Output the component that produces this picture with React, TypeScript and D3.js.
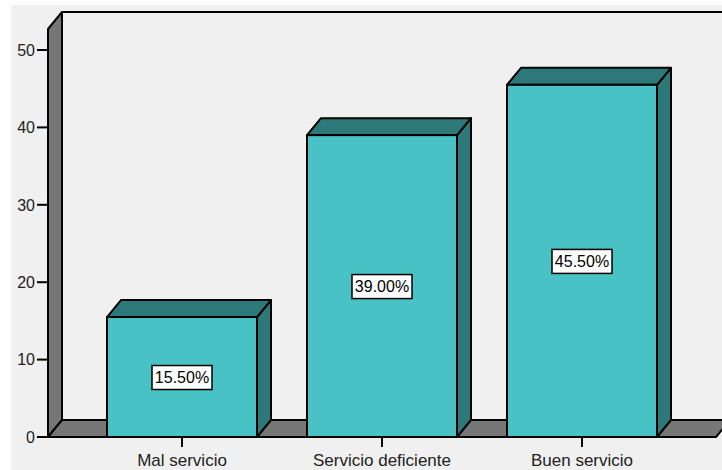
import React from "react";
import * as d3 from "d3";

const categories = ["Mal servicio", "Servicio deficiente", "Buen servicio"];
const values = [15.5, 39.0, 45.5];
const valueLabels = ["15.50%", "39.00%", "45.50%"];
const yTicks = [0, 10, 20, 30, 40, 50];

const W = 722;
const H = 470;
const DX = 14;
const DY = -17;
const FONT = "Liberation Sans, Arial, sans-serif";

export default function App() {
  const y = d3.scaleLinear().domain([0, 50]).range([437, 50]);
  const x = d3
    .scaleBand<string>()
    .domain(categories)
    .range([57, 707])
    .paddingInner(0.25)
    .paddingOuter(0.25);

  const y0 = y(0);
  const wallX = 48;
  const floorRight = 716;
  const topY = 12;

  const poly = (pts: [number, number][]) => pts.map((p) => p.join(",")).join(" ");

  return (
    <svg
      width={W}
      height={H}
      style={{ position: "absolute", left: 0, top: 0, fontFamily: FONT }}
    >
      <rect x={0} y={0} width={W} height={H} fill="#ffffff" />
      <rect x={11} y={5} width={W - 11} height={H - 5} fill="#f0f0f0" />
      {/* back wall */}
      <line x1={wallX + DX} y1={topY} x2={W + 5} y2={topY} stroke="#000" strokeWidth={2} />
      {/* left wall */}
      <polygon
        points={poly([
          [wallX, y0],
          [wallX, topY - DY],
          [wallX + DX, topY],
          [wallX + DX, y0 + DY],
        ])}
        fill="#777777"
        stroke="#000"
        strokeWidth={2}
        strokeLinejoin="round"
      />
      {/* floor */}
      <polygon
        points={poly([
          [wallX, y0],
          [floorRight, y0],
          [floorRight + DX, y0 + DY],
          [wallX + DX, y0 + DY],
        ])}
        fill="#777777"
        stroke="#000"
        strokeWidth={2}
        strokeLinejoin="round"
      />
      {/* y axis */}
      {yTicks.map((t) => (
        <g key={t}>
          <line x1={37} x2={wallX} y1={y(t)} y2={y(t)} stroke="#000" strokeWidth={2} />
          <text
            x={35}
            y={y(t)}
            dy="0.36em"
            textAnchor="end"
            fontSize={16}
            fill="#222"
          >
            {t}
          </text>
        </g>
      ))}
      {/* bars */}
      {categories.map((c, i) => {
        const x0 = x(c)!;
        const x1 = x0 + x.bandwidth();
        const yt = y(values[i]);
        const cx = x0 + x.bandwidth() / 2;
        const cy = (yt + y0) / 2;
        return (
          <g key={c}>
            <polygon
              points={poly([
                [x1, y0],
                [x1, yt],
                [x1 + DX, yt + DY],
                [x1 + DX, y0 + DY],
              ])}
              fill="#2d7878"
              stroke="#000"
              strokeWidth={2}
              strokeLinejoin="round"
            />
            <polygon
              points={poly([
                [x0, yt],
                [x1, yt],
                [x1 + DX, yt + DY],
                [x0 + DX, yt + DY],
              ])}
              fill="#2d7878"
              stroke="#000"
              strokeWidth={2}
              strokeLinejoin="round"
            />
            <rect
              x={x0}
              y={yt}
              width={x.bandwidth()}
              height={y0 - yt}
              fill="#48c2c5"
              stroke="#000"
              strokeWidth={2}
            />
            <rect x={cx - 30} y={cy - 11.5} width={60} height={24} fill="#fff" stroke="#000" strokeWidth={1.5} />
            <text x={cx} y={cy} dy="0.4em" textAnchor="middle" fontSize={16} fill="#000">
              {valueLabels[i]}
            </text>
            <line x1={cx} x2={cx} y1={y0} y2={y0 + 10} stroke="#000" strokeWidth={2} />
            <text x={cx} y={466} textAnchor="middle" fontSize={17} fill="#222">
              {c}
            </text>
          </g>
        );
      })}
    </svg>
  );
}
